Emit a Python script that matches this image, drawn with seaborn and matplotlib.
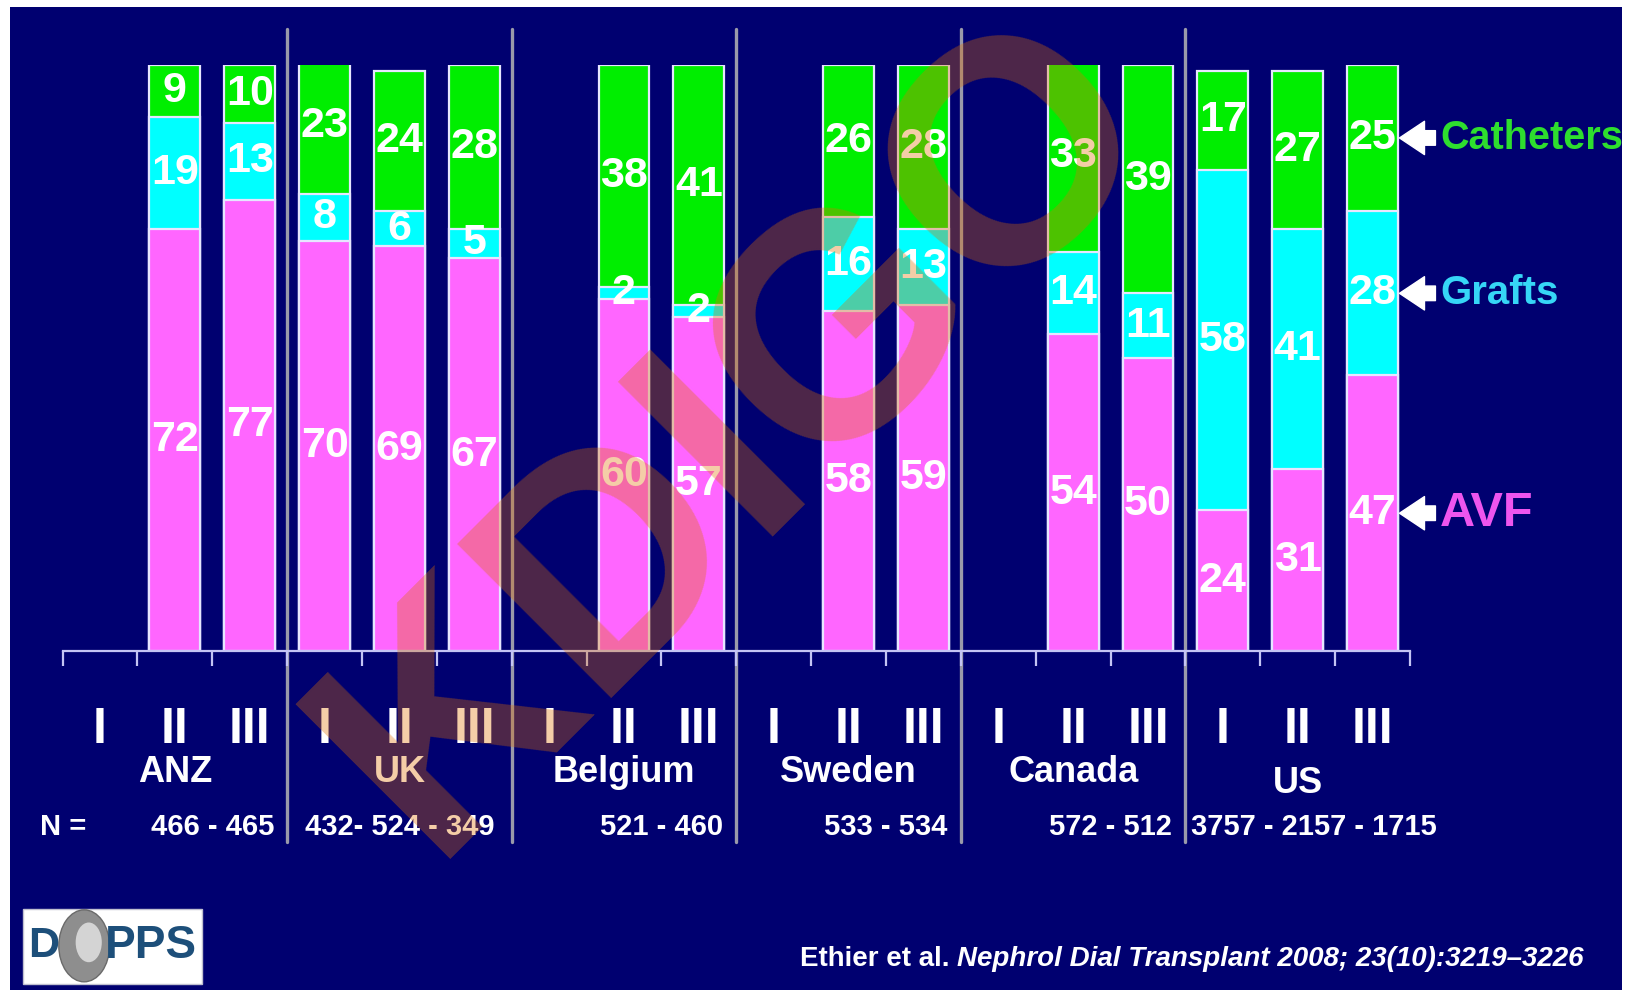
import numpy as np
import pandas as pd
import matplotlib
matplotlib.use("Agg")
import matplotlib.pyplot as plt
import matplotlib.transforms as mtransforms
from matplotlib.patches import Rectangle, Ellipse
from matplotlib import font_manager as fm
import seaborn as sns

# ---------------- data ----------------
countries = ["ANZ", "UK", "Belgium", "Sweden", "Canada", "US"]
phases = ["I", "II", "III"]
# per country, per phase (I, II, III); None = not surveyed
avf = [[None, 72, 77], [70, 69, 67], [None, 60, 57], [None, 58, 59], [None, 54, 50], [24, 31, 47]]
grafts = [[None, 19, 13], [8, 6, 5], [None, 2, 2], [None, 16, 13], [None, 14, 11], [58, 41, 28]]
catheters = [[None, 9, 10], [23, 24, 28], [None, 38, 41], [None, 26, 28], [None, 33, 39], [17, 27, 25]]
n_labels = ["466 - 465", "432- 524 - 349", "521 - 460", "533 - 534", "572 - 512", "3757 - 2157 - 1715"]
series_names = ["Catheters", "Grafts", "AVF"]
citation_plain = "Ethier et al. "
citation_italic = "Nephrol Dial Transplant 2008; 23(10):3219\u20133226"

# ---------------- styling ----------------
NAVY = "#000070"
MAGENTA = "#ff66ff"
CYAN = "#00ffff"
GREEN = "#00ee00"
EDGE = "#e6e6ff"
AXC = "#c4c4f4"
SEP = "#9a9aaa"
LABEL_COLORS = {"Catheters": "#2ede2e", "Grafts": "#36d6f6", "AVF": "#ee55ee"}
LABEL_SIZES = {"Catheters": 28.5, "Grafts": 29, "AVF": 35}

sns.set_theme(style="white")
names = {f.name for f in fm.fontManager.ttflist}
NF = "Liberation Sans Narrow" if "Liberation Sans Narrow" in names else "Liberation Sans"
plt.rcParams["font.family"] = [NF, "DejaVu Sans"]

rows = []
for ci, c in enumerate(countries):
    for pi, p in enumerate(phases):
        if avf[ci][pi] is None:
            continue
        rows.append(dict(country=c, phase=p, pos=ci * 3 + pi,
                         avf=avf[ci][pi], graft=grafts[ci][pi], cath=catheters[ci][pi]))
df = pd.DataFrame(rows)
df["c1"] = df["avf"]
df["c2"] = df["avf"] + df["graft"]
df["c3"] = df["c2"] + df["cath"]

fig = plt.figure(figsize=(16.34, 9.93), dpi=100, facecolor="white")
fig.patches.append(Rectangle((0.0064, 0.003), 0.986, 0.9896, transform=fig.transFigure,
                             facecolor=NAVY, edgecolor="none", zorder=-10))
ax = fig.add_axes([0.0383, 0.3444, 0.8246, 0.5905])
ax.set_facecolor("none")

for col, color in [("c3", GREEN), ("c2", CYAN), ("c1", MAGENTA)]:
    sns.barplot(data=df, x="pos", y=col, native_scale=True, orient="x", color=color,
                saturation=1, width=0.68, edgecolor=EDGE, linewidth=1.6,
                errorbar=None, ax=ax)

nslots = len(countries) * len(phases)
ax.set_xlim(-0.5, nslots - 0.5)
ax.set_ylim(0, 100)
for s in ["top", "right", "left"]:
    ax.spines[s].set_visible(False)
ax.spines["bottom"].set_color(AXC)
ax.spines["bottom"].set_linewidth(1.6)
ax.set_xticks(np.arange(-0.5, nslots, 1.0))
ax.set_xticklabels([])
ax.set_yticks([])
ax.tick_params(axis="x", bottom=True, direction="out", length=11, width=1.6, color=AXC)
ax.set_xlabel("")
ax.set_ylabel("")

# country separators
for ci in range(1, len(countries)):
    ax.axvline(ci * 3 - 0.5, ymin=-0.3257, ymax=1.0607, color=SEP, lw=2.4,
               clip_on=False, zorder=0.5)

# value labels
for _, r in df.iterrows():
    for base, v in [(0, r["avf"]), (r["c1"], r["graft"]), (r["c2"], r["cath"])]:
        ax.text(r["pos"], base + v / 2, str(int(v)), ha="center", va="center",
                color="white", fontsize=31, fontweight="bold", zorder=5)

trans = mtransforms.blended_transform_factory(ax.transData, fig.transFigure)
# phase numerals
for ci in range(len(countries)):
    for pi, p in enumerate(phases):
        ax.text(ci * 3 + pi, 0.265, p, transform=trans, ha="center", va="center",
                color="white", fontsize=36, fontweight="bold")
# country names and N
n_texts = []
for ci, c in enumerate(countries):
    ax.text(ci * 3 + 1, 0.211 if c == "US" else 0.2216, c, transform=trans,
            ha="center", va="center", color="white", fontsize=26, fontweight="bold")
    present = df.loc[df["country"] == c, "pos"].mean()
    n_texts.append(ax.text(present, 0.167, n_labels[ci], transform=trans, ha="center",
                           va="center", color="white", fontsize=21, fontweight="bold"))
fig.text(0.0245, 0.167, "N =", ha="left", va="center", color="white",
         fontsize=21, fontweight="bold")

# keep each N label clear of the separator on its left
fig.canvas.draw()
renderer = fig.canvas.get_renderer()
for ci, t in enumerate(n_texts):
    if ci == 0:
        continue
    sep_px = ax.transData.transform((ci * 3 - 0.5, 0))[0]
    bb = t.get_window_extent(renderer=renderer)
    min_left = sep_px + 6
    if bb.x0 < min_left:
        shift = min_left - bb.x0
        x_px = ax.transData.transform((t.get_position()[0], 0))[0] + shift
        t.set_x(ax.transData.inverted().transform((x_px, 0))[0])

# right-hand series labels pointing at the last bar
last = df.iloc[-1]
centers = {"AVF": last["avf"] / 2,
           "Grafts": last["c1"] + last["graft"] / 2,
           "Catheters": last["c2"] + last["cath"] / 2}
for name in series_names:
    yc = centers[name]
    ax.annotate("", xy=(last["pos"] + 0.36, yc), xytext=(last["pos"] + 0.84, yc),
                arrowprops=dict(arrowstyle="simple,head_length=0.6,head_width=0.8,tail_width=0.35",
                                color="white", shrinkA=0, shrinkB=0, mutation_scale=30),
                annotation_clip=False)
    ax.text(last["pos"] + 0.9, yc, name, ha="left", va="center",
            color=LABEL_COLORS[name], fontsize=LABEL_SIZES[name], fontweight="bold",
            clip_on=False)

# watermark
fig.text(0.452, 0.563, "KDIGO", rotation=45, rotation_mode="anchor", ha="center", va="center",
         fontsize=228, fontweight="bold", family="Liberation Sans", color="#e07000",
         alpha=0.35, zorder=20)

# DOPPS logo
fig.patches.append(Rectangle((0.014, 0.009), 0.1096, 0.0756, transform=fig.transFigure,
                             facecolor="white", edgecolor="#c0c0d0", lw=1, zorder=1))
fig.patches.append(Ellipse((0.0515, 0.0475), 0.0310, 0.0725, transform=fig.transFigure,
                           facecolor="#8e8e8e", edgecolor="#6a6a6a", lw=1, zorder=2))
fig.patches.append(Ellipse((0.0543, 0.0510), 0.016, 0.040, transform=fig.transFigure,
                           facecolor="#d4d4d4", edgecolor="none", zorder=2))
fig.text(0.0170, 0.047, "D", ha="left", va="center", fontsize=31, fontweight="bold",
         color="#1d4f7a", zorder=3)
fig.text(0.0640, 0.047, "PPS", ha="left", va="center", fontsize=33, fontweight="bold",
         color="#1d4f7a", zorder=3)

# citation
t2 = fig.text(0.969, 0.034, citation_italic, ha="right", va="center", color="white",
              fontsize=20, fontweight="bold", fontstyle="italic")
fig.canvas.draw()
bb = t2.get_window_extent(renderer=fig.canvas.get_renderer())
x_left = bb.x0 / fig.bbox.width
fig.text(x_left, 0.034, citation_plain, ha="right", va="center", color="white",
         fontsize=20, fontweight="bold")

fig.savefig("out.png", dpi=100, facecolor="white")
